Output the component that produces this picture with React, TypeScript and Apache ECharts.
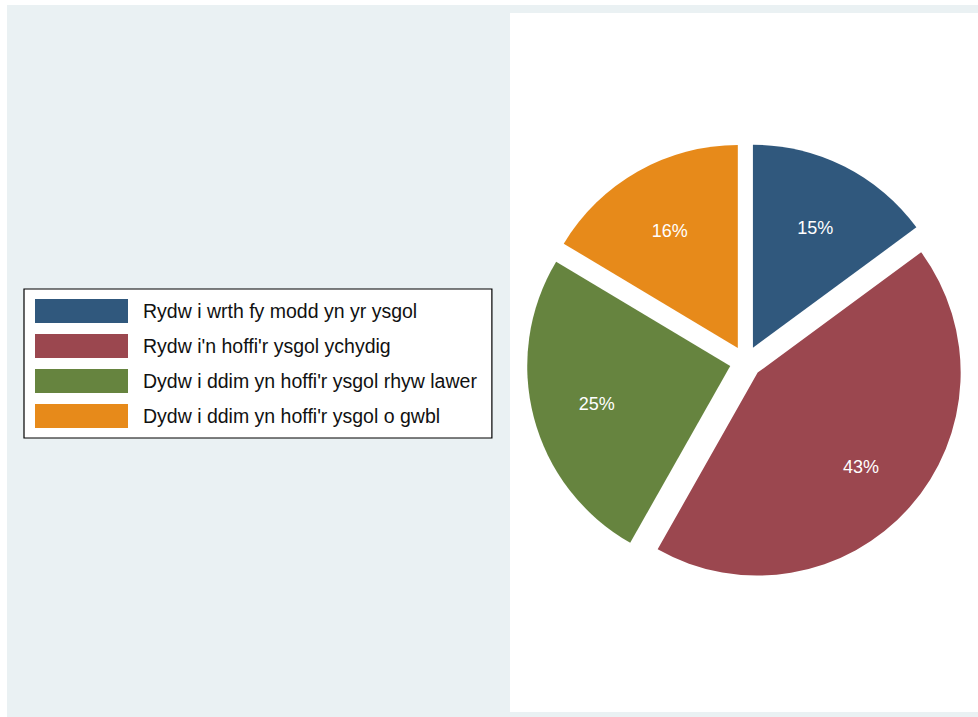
import React, { useEffect, useRef } from "react";
import * as echarts from "echarts";

const categories = [
  "Rydw i wrth fy modd yn yr ysgol",
  "Rydw i'n hoffi'r ysgol ychydig",
  "Dydw i ddim yn hoffi'r ysgol rhyw lawer",
  "Dydw i ddim yn hoffi'r ysgol o gwbl",
];
const shares = [14.9, 43.3, 25.4, 16.4];
const palette = ["#30587D", "#9B474F", "#66843F", "#E78A1A"];

const FONT = "'Liberation Sans', Arial, sans-serif";

export default function App() {
  const ref = useRef<HTMLDivElement>(null);
  useEffect(() => {
    if (!ref.current) return;
    const chart = echarts.init(ref.current, null, { renderer: "svg" });
    const center = [745.7, 362];
    const pieData = categories.map((name, i) => ({
      name,
      value: shares[i],
      selected: true,
      itemStyle: { color: palette[i] },
    }));
    const labelData = categories.map((name, i) => ({
      name,
      value: shares[i],
      selected: true,
    }));
    chart.setOption({
      animation: false,
      graphic: [
        {
          type: "rect",
          z: -10,
          shape: { x: 7, y: 5, width: 971, height: 712 },
          style: { fill: "#EAF1F3" },
          silent: true,
        },
        {
          type: "rect",
          z: -9,
          shape: { x: 510, y: 13, width: 468, height: 699 },
          style: { fill: "#FFFFFF" },
          silent: true,
        },
      ],
      legend: {
        orient: "vertical",
        left: 24,
        top: 289,
        padding: [10, 15, 10, 11],
        itemWidth: 93,
        itemHeight: 24,
        itemGap: 11,
        icon: "rect",
        backgroundColor: "#FFFFFF",
        borderColor: "#000000",
        borderWidth: 1.2,
        selectedMode: false,
        data: categories.map((name, i) => ({
          name,
          itemStyle: { color: palette[i] },
        })),
        textStyle: {
          fontFamily: FONT,
          fontSize: 19.5,
          color: "#111111",
          padding: [0, 0, 0, 10],
        },
      },
      series: [
        {
          type: "pie",
          center,
          radius: [0, 203],
          startAngle: 90,
          clockwise: true,
          selectedMode: "multiple",
          selectedOffset: 16,
          silent: true,
          emphasis: { disabled: true },
          select: { itemStyle: { borderWidth: 0 } },
          label: { show: false },
          labelLine: { show: false },
          itemStyle: { borderWidth: 0 },
          data: pieData,
        },
        {
          type: "pie",
          center,
          radius: [0, 270],
          startAngle: 90,
          clockwise: true,
          selectedMode: "multiple",
          selectedOffset: 16,
          silent: true,
          z: 3,
          emphasis: { disabled: true },
          select: { itemStyle: { color: "rgba(0,0,0,0)", borderWidth: 0 } },
          itemStyle: { color: "rgba(0,0,0,0)", borderWidth: 0 },
          labelLine: { show: false },
          label: {
            show: true,
            position: "inside",
            color: "#FFFFFF",
            fontFamily: FONT,
            fontSize: 18,
            formatter: (p: any) => `{s| }\n{v|${Math.round(p.value)}%}`,
            rich: {
              s: { height: 6, fontSize: 4, lineHeight: 6 },
              v: {
                color: "#FFFFFF",
                fontFamily: FONT,
                fontSize: 18,
                lineHeight: 22,
              },
            },
          },
          data: labelData,
        },
      ],
    });
    return () => chart.dispose();
  }, []);
  return (
    <div
      ref={ref}
      style={{ position: "absolute", left: 0, top: 0, width: 978, height: 717 }}
    />
  );
}
